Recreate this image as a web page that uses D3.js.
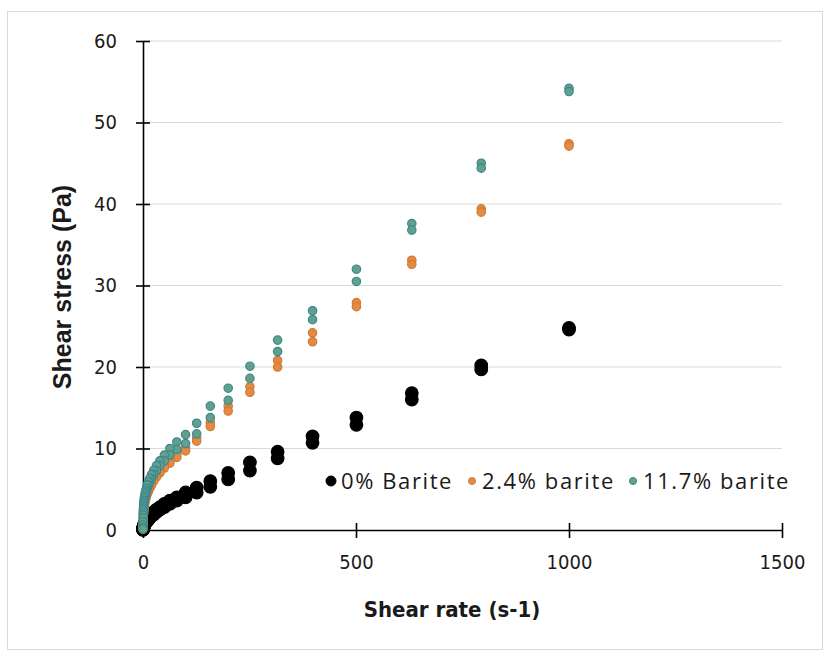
<!DOCTYPE html>
<html>
<head>
<meta charset="utf-8">
<script src="https://cdn.jsdelivr.net/npm/d3@7"></script>
<style>
  body { margin: 0; background: #fff; }
  svg { display: block; }
</style>
</head>
<body>
<svg id="svg"></svg>
<script>
// shear rate steps (s-1), each measured twice
var rates = [1000, 794, 631, 501, 398, 316, 251, 200, 158, 126, 100, 79.4, 63.1, 50.1, 39.8, 31.6, 25.1, 20, 15.8, 12.6, 10, 7.94, 6.31, 5.01, 3.98, 3.16, 2.51, 2, 1.58, 1.26, 1, 0.5, 0.1, 0.01]

var barite0_a = [24.8, 20.2, 16.8, 13.8, 11.5, 9.6, 8.3, 7.0, 6.0, 5.2, 4.6, 4.0, 3.6, 3.2, 2.8, 2.5, 2.2, 1.9, 1.7, 1.5, 1.3, 1.1, 1.0, 0.9, 0.8, 0.7, 0.6, 0.5, 0.45, 0.4, 0.35, 0.25, 0.1, 0.05]
var barite0_b = [24.6, 19.7, 16.0, 12.9, 10.7, 8.8, 7.3, 6.2, 5.3, 4.6, 4.0, 3.6, 3.2, 2.8, 2.5, 2.2, 1.9, 1.7, 1.5, 1.3, 1.1, 1.0, 0.9, 0.8, 0.7, 0.6, 0.5, 0.45, 0.4, 0.35, 0.3, 0.2, 0.08, 0.03]

var barite24_a = [47.4, 39.4, 33.1, 27.9, 24.2, 20.8, 17.6, 15.2, 13.2, 11.3, 10.1, 9.3, 8.6, 7.9, 7.3, 6.8, 6.3, 5.8, 5.4, 5.0, 4.6, 4.3, 4.0, 3.7, 3.5, 3.2, 2.9, 2.7, 2.5, 2.2, 2.0, 1.5, 0.8, 0.2]
var barite24_b = [47.1, 39.0, 32.6, 27.4, 23.1, 20.0, 16.9, 14.6, 12.7, 10.9, 9.7, 8.9, 8.2, 7.6, 7.0, 6.5, 6.0, 5.5, 5.1, 4.7, 4.4, 4.1, 3.8, 3.5, 3.2, 3.0, 2.7, 2.5, 2.2, 2.0, 1.8, 1.3, 0.5, 0.1]

var barite117_a = [54.2, 45.0, 37.6, 32.0, 26.9, 23.3, 20.1, 17.4, 15.2, 13.1, 11.7, 10.8, 10.0, 9.2, 8.5, 7.9, 7.3, 6.8, 6.3, 5.9, 5.5, 5.1, 4.8, 4.5, 4.2, 3.9, 3.6, 3.3, 3.0, 2.7, 2.4, 1.8, 1.0, 0.3]
var barite117_b = [53.8, 44.4, 36.8, 30.5, 25.8, 21.9, 18.6, 15.9, 13.8, 11.8, 10.6, 9.9, 9.2, 8.5, 7.9, 7.3, 6.8, 6.3, 5.9, 5.5, 5.1, 4.8, 4.5, 4.2, 3.9, 3.6, 3.3, 3.0, 2.7, 2.4, 2.1, 1.5, 0.6, 0.1]

var xTicks = [0, 500, 1000, 1500]
var yTicks = [0, 10, 20, 30, 40, 50, 60]
var seriesNames = ["0% Barite", "2.4% barite", "11.7% barite"]

var W = 832, H = 657
var margin = {left: 143, right: 50, top: 41, bottom: 127}
var plotW = 782 - margin.left, plotH = 530 - margin.top
var numFont = "'DejaVu Sans Condensed', 'Liberation Sans Narrow', sans-serif"

function pairs(a, b) {
  var out = []
  rates.forEach(function(r, i) {
    out.push([r, a[i]])
    out.push([r, b[i]])
  })
  return out
}

var series = [
  {name: seriesNames[0], pts: pairs(barite0_a, barite0_b), fill: "#000000", stroke: "#000000", r: 6.3, lr: 5},
  {name: seriesNames[1], pts: pairs(barite24_a, barite24_b), fill: "#e28b42", stroke: "#d07a36", r: 4.2, lr: 3.5},
  {name: seriesNames[2], pts: pairs(barite117_a, barite117_b), fill: "#62a08a", stroke: "#3b8790", r: 4.2, lr: 3.5}
]

var svg = d3.select("#svg").attr("width", W).attr("height", H)

// chart border
svg.append("rect")
  .attr("x", 7.5).attr("y", 11.5)
  .attr("width", 815).attr("height", 638)
  .attr("fill", "#fff")
  .attr("stroke", "#d9d9d9")

var g = svg.append("g")
  .attr("transform", `translate(${margin.left},${margin.top})`)

var x = d3.scaleLinear().domain([0, 1500]).range([0, plotW])
var y = d3.scaleLinear().domain([0, 60]).range([plotH, 0])

// gridlines
g.append("g")
  .selectAll("line")
  .data(yTicks.filter(d => d > 0))
  .enter().append("line")
  .attr("x1", 0).attr("x2", plotW)
  .attr("y1", d => y(d)).attr("y2", d => y(d))
  .attr("stroke", "#d9d9d9")
  .attr("stroke-width", 1.2)

// y axis
var yAxis = d3.axisLeft(y).tickValues(yTicks).tickFormat(d3.format("d")).tickSize(0).tickPadding(26)
var yG = g.append("g").call(yAxis)
yG.select(".domain").attr("stroke", "#000").attr("stroke-width", 1.6)
yG.selectAll(".tick line").remove()
yG.selectAll(".tick").append("line")
  .attr("x1", -7).attr("x2", 7)
  .attr("stroke", "#000").attr("stroke-width", 1.6)
yG.selectAll("text")
  .style("font-family", numFont)
  .style("font-size", "20px")
  .attr("fill", "#1a1a1a")

// x axis
var xAxis = d3.axisBottom(x).tickValues(xTicks).tickFormat(d3.format("d")).tickSize(0).tickPadding(25)
var xG = g.append("g").attr("transform", `translate(0,${plotH})`).call(xAxis)
xG.select(".domain").attr("stroke", "#000").attr("stroke-width", 1.6)
xG.selectAll(".tick line").remove()
xG.selectAll(".tick").append("line")
  .attr("y1", -7).attr("y2", 8)
  .attr("stroke", "#000").attr("stroke-width", 1.6)
xG.selectAll("text")
  .style("font-family", numFont)
  .style("font-size", "20px")
  .attr("fill", "#1a1a1a")

// axis titles
svg.append("text")
  .attr("x", 452).attr("y", 617)
  .attr("text-anchor", "middle")
  .style("font-family", numFont)
  .style("font-weight", 700)
  .style("font-size", "22px")
  .attr("fill", "#1a1a1a")
  .text("Shear rate (s-1)")

svg.append("text")
  .attr("transform", "translate(71,287) rotate(-90)")
  .attr("text-anchor", "middle")
  .style("font-family", "'Liberation Sans', Arial, sans-serif")
  .style("font-weight", 700)
  .style("font-size", "25px")
  .attr("fill", "#1a1a1a")
  .text("Shear stress (Pa)")

// points
series.forEach(function(s) {
  g.append("g")
    .selectAll("circle")
    .data(s.pts)
    .enter().append("circle")
    .attr("cx", d => x(d[0]))
    .attr("cy", d => y(d[1]))
    .attr("r", s.r)
    .attr("fill", s.fill)
    .attr("stroke", s.stroke)
    .attr("stroke-width", 1.2)
})

// legend
var legX = [331, 472, 633]
var leg = svg.append("g").attr("transform", "translate(0,481)")
series.forEach(function(s, i) {
  leg.append("circle")
    .attr("cx", legX[i]).attr("cy", 0)
    .attr("r", s.lr)
    .attr("fill", s.fill)
    .attr("stroke", s.stroke)
  leg.append("text")
    .attr("x", legX[i] + 10).attr("y", 8)
    .style("font-family", "'Open Sans', sans-serif")
    .style("font-size", "22px")
    .style("letter-spacing", "1.6px")
    .attr("fill", "#1a1a1a")
    .text(s.name)
})
</script>
</body>
</html>
